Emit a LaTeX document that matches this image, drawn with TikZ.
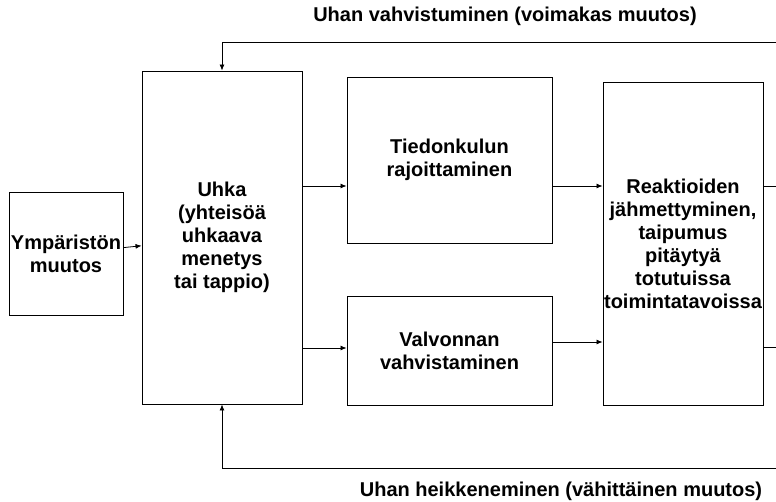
\documentclass[tikz,border=0pt]{standalone}
\usepackage{fontspec}
\setmainfont{Liberation Sans}
\usetikzlibrary{arrows.meta}

\begin{document}
\begin{tikzpicture}[
    x=1pt, y=-1pt,
    font=\fontsize{20}{23}\selectfont\bfseries,
    block/.style={rectangle, draw, line width=0.9pt, align=center, inner sep=0pt},
    line/.style={draw, line width=0.8pt, -{Latex[length=6pt,width=5pt]}}
]
\useasboundingbox (0,0) rectangle (776,501);

\node [block, minimum width=114pt, minimum height=123pt] (env) at (66,253.5) {Ympäristön\\muutos};
\node [block, minimum width=160pt, minimum height=333pt] (threat) at (222,237.5) {Uhka\\(yhteisöä\\uhkaava\\menetys\\tai tappio)};
\node [block, minimum width=205pt, minimum height=166pt] (info) at (449.5,160) {Tiedonkulun\\rajoittaminen};
\node [block, minimum width=205pt, minimum height=109pt] (monitor) at (449.5,350.5) {Valvonnan\\vahvistaminen};
\node [block, minimum width=160pt, minimum height=323pt] (react) at (683,243.5) {Reaktioiden\\jähmettyminen,\\taipumus\\pitäytyä\\totutuissa\\toimintatavoissa};

\node (upper) at (505,16) {Uhan vahvistuminen (voimakas muutos)};
\node (lower) at (561,491) {Uhan heikkeneminen (vähittäinen muutos)};

\coordinate (topin) at (776,42);
\coordinate (botin) at (776,468);
\coordinate (out1) at (776,186);
\coordinate (out2) at (776,347);

\path [line] (env) -- (threat);
\path [line] (threat.east |- 0,186) -- (info.west |- 0,186);
\path [line] (threat.east |- 0,348) -- (monitor.west |- 0,348);
\path [line] (info.east |- 0,186) -- (react.west |- 0,186);
\path [line] (monitor.east |- 0,342) -- (react.west |- 0,342);
\draw [line width=0.8pt] (react.east |- out1) -- (out1);
\draw [line width=0.8pt] (react.east |- out2) -- (out2);
\path [line] (topin) -- (threat.north |- topin) -- (threat.north);
\path [line] (botin) -- (threat.south |- botin) -- (threat.south);
\end{tikzpicture}
\end{document}
